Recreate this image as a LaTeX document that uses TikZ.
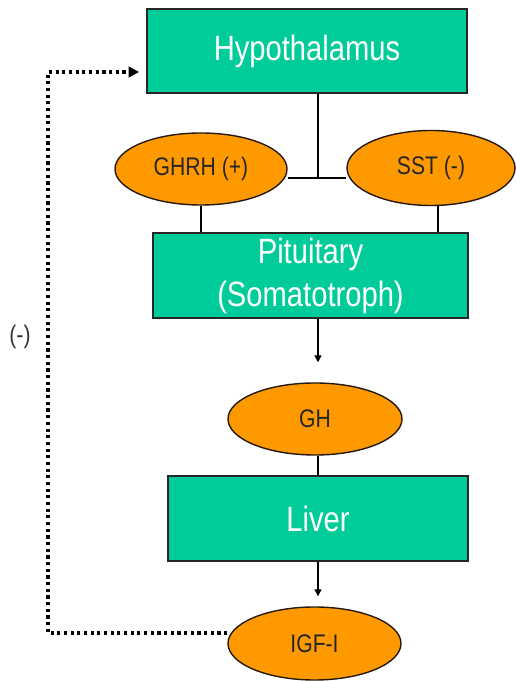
\documentclass[tikz,border=0pt]{standalone}
\usepackage{fontspec}
\setmainfont{Liberation Sans}[FakeStretch=0.83]
\usepackage{xcolor}
\usepackage{tikz}
\usetikzlibrary{shapes,arrows,positioning,calc,arrows.meta}
\definecolor{organgreen}{HTML}{00CC99}
\definecolor{hormoneorange}{HTML}{FF9900}
\tikzset{
    organ/.style={draw=black!85, line width=1pt, fill=organgreen, text=white, align=center, inner sep=0pt, font=\fontsize{20}{24.5}\selectfont},
    hormone/.style={ellipse, draw=black!80!brown, line width=0.8pt, fill=hormoneorange, inner sep=0pt, text=black!85, font=\fontsize{14.5}{16}\selectfont},
    link/.style={line width=0.8pt},
    tip/.style={link, -{Triangle[length=4pt,width=4pt]}},
    feedback/.style={line width=1.8pt, dash pattern=on 1.8pt off 2pt, -{Triangle[length=6pt,width=6pt]}}
}

\begin{document}
\begin{tikzpicture}
    \useasboundingbox (0,0) rectangle (10.3,13.62);

    % Organs
    \node[organ, minimum width=6.4cm, minimum height=1.68cm] (hypo) at (6.14,12.6) {Hypothalamus};
    \node[organ, minimum width=6.3cm, minimum height=1.7cm] (pit) at (6.21,8.11) {Pituitary\\(Somatotroph)};
    \node[organ, minimum width=6cm, minimum height=1.7cm] (liver) at (6.36,3.25) {Liver};

    % Hormones
    \node[hormone, minimum width=3.44cm, minimum height=1.44cm] (ghrh) at (4.02,10.24) {GHRH (+)};
    \node[hormone, minimum width=3.36cm, minimum height=1.5cm] (sst) at (8.62,10.26) {SST (-)};
    \node[hormone, minimum width=3.48cm, minimum height=1.44cm] (gh) at (6.3,5.24) {GH};
    \node[hormone, minimum width=3.46cm, minimum height=1.46cm] (igf) at (6.29,0.75) {IGF-I};

    \coordinate (join) at (6.36,10.06);
    \coordinate (sstdrop) at (8.76,10.26);
    \draw[link] (hypo.south -| join) -- (join);
    \draw[link] (ghrh.east |- join) -- (sst.west |- join);
    \draw[link] (ghrh.south) -- (ghrh.south |- pit.north);
    \draw[link] (sstdrop |- sst.south) -- (sstdrop |- pit.north);

    \draw[tip, shorten >=0.4cm] (pit.south -| join) -- (gh.north -| join);
    \draw[link] (gh.south -| join) -- (liver.north -| join);
    \draw[tip, shorten >=0.2cm] (liver.south -| join) -- (igf.north -| join);

    % Feedback loop
    \coordinate (fbbottom) at (0.96,0.96);
    \coordinate (fbtop) at (0.96,12.18);
    \draw[feedback, shorten >=0.14cm] (igf.west |- fbbottom) -- (fbbottom) -- (fbtop) -- (fbtop -| hypo.west);
    \node[text=black!80, font=\fontsize{14.5}{16}\selectfont] (neg) at (0.4,6.88) {(-)};
\end{tikzpicture}
\end{document}
